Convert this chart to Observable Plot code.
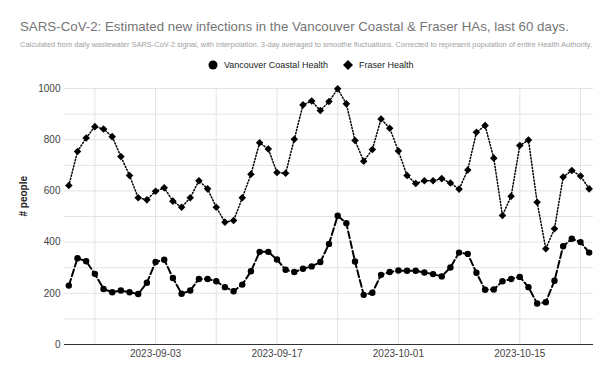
<!DOCTYPE html>
<html>
<head>
<meta charset="utf-8">
<script src="https://cdn.jsdelivr.net/npm/d3@7"></script>
<script src="https://cdn.jsdelivr.net/npm/@observablehq/plot@0.6"></script>
<style>
  html, body { margin: 0; padding: 0; background: #fff; }
  #wrap { position: relative; width: 611px; height: 377px; font-family: "Liberation Sans", Arial, sans-serif; overflow: hidden; }
  #title { position: absolute; left: 20px; top: 19px; font-size: 13.3px; color: #757575; white-space: nowrap; }
  #subtitle { position: absolute; left: 20px; top: 40px; font-size: 7.6px; color: #a0a0a0; white-space: nowrap; transform-origin: left center; }
  #legend { position: absolute; left: 208px; top: 60px; display: flex; align-items: center; font-size: 9px; color: #222; }
  #legend .item { display: flex; align-items: center; margin-right: 15px; }
  #legend svg { margin-right: 6px; }
  #chart { position: absolute; left: 0; top: 75px; }
</style>
</head>
<body>
<div id="wrap">
  <div id="title"></div>
  <div id="subtitle"></div>
  <div id="legend"></div>
  <div id="chart"></div>
</div>
<script>
const titleText = "SARS-CoV-2: Estimated new infections in the Vancouver Coastal & Fraser HAs, last 60 days.";
const subtitleText = "Calculated from daily wastewater SARS-CoV-2 signal, with interpolation. 3-day averaged to smoothe fluctuations. Corrected to represent population of entire Health Authority.";
const seriesNames = ["Vancouver Coastal Health", "Fraser Health"];
const startDate = "2023-08-24";
const vancouverCoastal = [230,337,325,276,217,204,211,204,197,241,322,331,260,198,211,256,256,247,224,208,234,286,362,362,332,292,283,296,305,322,393,503,474,324,194,202,272,283,289,288,288,281,275,266,301,359,354,280,214,215,247,256,264,224,160,165,249,384,413,400,359];
const fraser = [621,754,807,851,842,812,734,660,573,565,599,612,560,536,573,640,608,536,478,484,573,665,788,764,672,669,802,936,951,914,949,999,940,797,716,762,881,845,756,660,629,640,640,648,631,607,682,829,855,728,504,579,777,799,556,374,452,654,680,658,608];
const yTicks = [0, 200, 400, 600, 800, 1000];
const yGrid = [0, 100, 200, 300, 400, 500, 600, 700, 800, 900, 1000];
const xLabelDates = ["2023-09-03", "2023-09-17", "2023-10-01", "2023-10-15"];
const xGridDates = ["2023-08-27", "2023-09-03", "2023-09-10", "2023-09-17", "2023-09-24", "2023-10-01", "2023-10-08", "2023-10-15", "2023-10-22"];
const yLabel = "# people";

document.getElementById("title").textContent = titleText;
const sub = document.getElementById("subtitle");
sub.textContent = subtitleText;
const subW = sub.getBoundingClientRect().width;
if (subW > 0) sub.style.transform = `scaleX(${572 / subW})`;

const legend = document.getElementById("legend");
legend.innerHTML =
  `<span class="item"><svg width="10" height="10"><circle cx="5" cy="5" r="4.5" fill="#000"/></svg>${seriesNames[0]}</span>` +
  `<span class="item"><svg width="10" height="10"><path d="M5 0L10 5L5 10L0 5Z" fill="#000"/></svg>${seriesNames[1]}</span>`;

const start = new Date(startDate + "T00:00Z");
const data = vancouverCoastal.map((v, i) => ({
  date: d3.utcDay.offset(start, i),
  vch: v,
  fraser: fraser[i]
}));
const parse = s => new Date(s + "T00:00Z");

const chart = Plot.plot({
  width: 611,
  height: 302,
  marginTop: 13,
  marginBottom: 33,
  marginLeft: 64,
  marginRight: 18,
  style: { fontFamily: "Liberation Sans, Arial, sans-serif", background: "transparent" },
  x: { type: "utc", domain: [parse("2023-08-23").getTime() + 12 * 3600e3, parse("2023-10-23").getTime() + 12 * 3600e3].map(t => new Date(t)) },
  y: { domain: [0, 1000] },
  marks: [
    Plot.ruleY(yGrid, { stroke: "#e3e3e3", strokeWidth: 1 }),
    Plot.ruleX(xGridDates.map(parse), { stroke: "#e3e3e3", strokeWidth: 1 }),
    Plot.axisY(yTicks, { tickSize: 0, tickPadding: 4, fontSize: 10, fill: "#444", label: null, tickFormat: d3.format("d") }),
    Plot.axisX(xLabelDates.map(parse), { tickSize: 0, tickPadding: 5, fontSize: 10, fill: "#444", label: null, tickFormat: d3.utcFormat("%Y-%m-%d") }),
    Plot.ruleY([0], { stroke: "#333", strokeWidth: 1 }),
    Plot.text([yLabel], { frameAnchor: "left", dx: -41, rotate: -90, fontSize: 10, fontWeight: "bold", fill: "#222" }),
    Plot.line(data, { x: "date", y: "vch", stroke: "#000", strokeWidth: 2, strokeDasharray: "7,3" }),
    Plot.dot(data, { x: "date", y: "vch", r: 3.2, fill: "#000", stroke: "none" }),
    Plot.line(data, { x: "date", y: "fraser", stroke: "#000", strokeWidth: 1.5, strokeDasharray: "1.2,2" }),
    Plot.dot(data, { x: "date", y: "fraser", symbol: "diamond2", r: 3.4, fill: "#000", stroke: "none" })
  ]
});
document.getElementById("chart").appendChild(chart);
</script>
</body>
</html>
